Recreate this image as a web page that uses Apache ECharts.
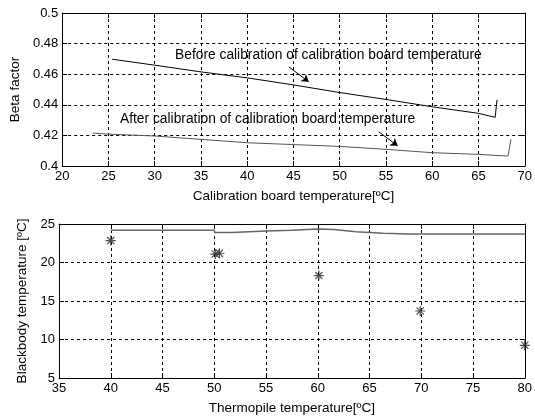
<!DOCTYPE html>
<html>
<head>
<meta charset="utf-8">
<script src="https://cdn.jsdelivr.net/npm/echarts@6/dist/echarts.min.js"></script>
<style>
  html, body { margin: 0; padding: 0; background: #fff; }
  #chart { width: 535px; height: 418px; }
</style>
</head>
<body>
<div id="chart"></div>
<script>
// top panel: beta factor vs calibration board temperature
const beforeX = [25.4, 30, 35, 40, 45, 50, 55, 60, 65, 66.8, 67.0];
const beforeY = [0.4698, 0.4659, 0.4615, 0.4576, 0.4530, 0.4480, 0.4435, 0.4387, 0.4344, 0.4318, 0.4433];
const afterX = [23.3, 25, 30, 35, 40, 45, 50, 55, 60, 65, 68.2, 68.5];
const afterY = [0.4215, 0.4208, 0.4196, 0.4174, 0.4152, 0.4140, 0.4128, 0.4109, 0.4087, 0.4076, 0.4065, 0.4174];

// bottom panel: blackbody temperature vs thermopile temperature
const lineX = [40, 50, 50.05, 51.7, 51.75, 55, 57.5, 60, 61.5, 63.7, 66.3, 68.7, 80];
const lineY = [24.2, 24.2, 23.9, 23.9, 24.0, 24.1, 24.2, 24.35, 24.3, 24.0, 23.8, 23.7, 23.7];
const starX = [40, 50.1, 50.5, 60.1, 69.9, 80];
const starY = [22.85, 21.1, 21.2, 18.3, 13.7, 9.25];

// annotation arrows (data coords of the top panel)
const beforeArrow = [[44.5, 0.4648], [46.65, 0.4550]];
const afterArrow = [[54.2, 0.4224], [56.26, 0.4132]];

const font = 'Liberation Sans, Arial, sans-serif';
const zip = (xs, ys) => xs.map((x, i) => [x, ys[i]]);

const star = 'path://M0,-5L0,5M-5,0L5,0M-3.6,-3.6L3.6,3.6M-3.6,3.6L3.6,-3.6';

function xAx(grid, min, max, name, pos) {
  const main = pos === 'bottom';
  return {
    type: 'value', gridIndex: grid, position: pos, min: min, max: max, interval: 5,
    name: main ? name : '', nameLocation: 'middle', nameGap: 23,
    nameTextStyle: { color: '#000', fontSize: 13.5, fontFamily: font },
    axisLine: { show: true, onZero: false, lineStyle: { color: '#000', width: 1 } },
    axisTick: { show: true, inside: true, length: 5, lineStyle: { color: '#000' } },
    axisLabel: { show: main, color: '#000', fontSize: 13, fontFamily: font, margin: 4 },
    splitLine: { show: main, lineStyle: { color: '#000', type: [3, 3], width: 1 } }
  };
}

function yAx(grid, min, max, step, name, gap, pos, dec) {
  const main = pos === 'left';
  return {
    type: 'value', gridIndex: grid, position: pos, min: min, max: max, interval: step,
    name: main ? name : '', nameLocation: 'middle', nameGap: gap,
    nameTextStyle: { color: '#000', fontSize: 13.5, fontFamily: font },
    axisLine: { show: true, onZero: false, lineStyle: { color: '#000', width: 1 } },
    axisTick: { show: true, inside: true, length: 5, lineStyle: { color: '#000' } },
    axisLabel: {
      show: main, color: '#000', fontSize: 13, fontFamily: font, margin: 4,
      formatter: v => dec ? String(+v.toFixed(2)) : String(v)
    },
    splitLine: { show: main, lineStyle: { color: '#000', type: [3, 3], width: 1 } }
  };
}

const arrowLine = (pts) => ({
  silent: true, symbol: ['none', 'arrow'], symbolSize: 7,
  lineStyle: { color: '#000', width: 1, type: 'solid' },
  label: { show: false },
  data: [[{ coord: pts[0] }, { coord: pts[1] }]]
});

const chart = echarts.init(document.getElementById('chart'));
chart.setOption({
  animation: false,
  backgroundColor: '#fff',
  grid: [
    { left: 59, top: 13, width: 467, height: 153 },
    { left: 59, top: 224, width: 468, height: 154 }
  ],
  xAxis: [
    xAx(0, 20, 70, 'Calibration board temperature[ºC]', 'bottom'),
    xAx(0, 20, 70, '', 'top'),
    xAx(1, 35, 80, 'Thermopile temperature[ºC]', 'bottom'),
    xAx(1, 35, 80, '', 'top')
  ],
  yAxis: [
    yAx(0, 0.4, 0.5, 0.02, 'Beta factor', 40, 'left', true),
    yAx(0, 0.4, 0.5, 0.02, '', 0, 'right', true),
    yAx(1, 5, 25, 5, 'Blackbody temperature [ºC]', 20, 'left', false),
    yAx(1, 5, 25, 5, '', 0, 'right', false)
  ],
  graphic: [
    { type: 'text', left: 175, top: 48, style: { text: 'Before calibration of calibration board temperature', fill: '#000', font: '13.8px ' + font } },
    { type: 'text', left: 120, top: 112, style: { text: 'After calibration of calibration board temperature', fill: '#000', font: '13.8px ' + font } }
  ],
  series: [
    {
      type: 'line', xAxisIndex: 0, yAxisIndex: 0, data: zip(beforeX, beforeY),
      showSymbol: false, lineStyle: { color: '#000', width: 1 },
      markLine: arrowLine(beforeArrow)
    },
    {
      type: 'line', xAxisIndex: 0, yAxisIndex: 0, data: zip(afterX, afterY),
      showSymbol: false, lineStyle: { color: '#555', width: 1 },
      markLine: arrowLine(afterArrow)
    },
    {
      type: 'line', xAxisIndex: 2, yAxisIndex: 2, data: zip(lineX, lineY),
      showSymbol: false, lineStyle: { color: '#666', width: 1.5 }
    },
    {
      type: 'scatter', xAxisIndex: 2, yAxisIndex: 2, data: zip(starX, starY),
      symbol: star, symbolSize: 10,
      itemStyle: { color: 'rgba(0,0,0,0)', borderColor: '#222', borderWidth: 1.2 }
    }
  ]
});
</script>
</body>
</html>
